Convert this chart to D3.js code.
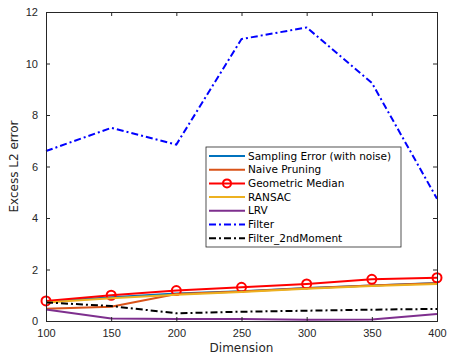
<!DOCTYPE html>
<html>
<head>
<meta charset="utf-8">
<script src="https://cdn.jsdelivr.net/npm/d3@7"></script>
<style>
  body { margin: 0; background: #fff; }
  svg { font-family: "DejaVu Sans", sans-serif; }
  .tick text { fill: #262626; font-size: 11px; }
</style>
</head>
<body>
<div id="chart"></div>
<script>
const dimensions = [100, 150, 200, 250, 300, 350, 400];
const samplingError = [0.75, 0.92, 1.07, 1.16, 1.28, 1.38, 1.48];
const naivePruning = [0.48, 0.55, 1.05, 1.15, 1.27, 1.38, 1.47];
const geometricMedian = [0.78, 1.0, 1.18, 1.31, 1.44, 1.62, 1.68];
const ransac = [0.72, 0.88, 1.02, 1.13, 1.25, 1.36, 1.44];
const lrv = [0.45, 0.1, 0.08, 0.08, 0.05, 0.06, 0.27];
const filter = [6.6, 7.5, 6.85, 10.95, 11.4, 9.25, 4.75];
const filter2nd = [0.72, 0.58, 0.3, 0.36, 0.4, 0.44, 0.47];
const yTicks = [0, 2, 4, 6, 8, 10, 12];

const series = [
  { name: 'Sampling Error (with noise)', values: samplingError, color: '#0072BD' },
  { name: 'Naive Pruning', values: naivePruning, color: '#D95319' },
  { name: 'Geometric Median', values: geometricMedian, color: '#FF0000', marker: true },
  { name: 'RANSAC', values: ransac, color: '#EDB120' },
  { name: 'LRV', values: lrv, color: '#7E2F8E' },
  { name: 'Filter', values: filter, color: '#0000FF', dash: '7,3,2,3' },
  { name: 'Filter_2ndMoment', values: filter2nd, color: '#000000', dash: '7,3,2,3' },
];

const width = 450,
  height = 357,
  plotLeft = 46,
  plotRight = 437,
  plotTop = 12,
  plotBottom = 321;

const x = d3.scaleLinear().domain([100, 400]).range([plotLeft, plotRight]);
const y = d3.scaleLinear().domain([0, 12]).range([plotBottom, plotTop]);

const svg = d3
  .select('#chart')
  .append('svg')
  .attr('width', width)
  .attr('height', height);

const axisColor = '#262626';

const line = d3
  .line()
  .x((d, i) => x(dimensions[i]))
  .y((d) => y(d));

series.forEach((s) => {
  svg
    .append('path')
    .datum(s.values)
    .attr('d', line)
    .attr('fill', 'none')
    .attr('stroke', s.color)
    .attr('stroke-width', 2)
    .attr('stroke-dasharray', s.dash || null);
  if (s.marker) {
    svg
      .selectAll(null)
      .data(s.values)
      .enter()
      .append('circle')
      .attr('cx', (d, i) => x(dimensions[i]))
      .attr('cy', (d) => y(d))
      .attr('r', 4.5)
      .attr('fill', 'none')
      .attr('stroke', s.color)
      .attr('stroke-width', 2);
  }
});

// axes, ticks inside on all four sides
const xAxis = svg
  .append('g')
  .attr('transform', `translate(0, ${plotBottom})`)
  .call(d3.axisBottom(x).tickValues(dimensions).tickSize(-4).tickPadding(8));
const yAxis = svg
  .append('g')
  .attr('transform', `translate(${plotLeft}, 0)`)
  .call(d3.axisLeft(y).tickValues(yTicks).tickSize(-4).tickPadding(8));
const xTop = svg
  .append('g')
  .attr('transform', `translate(0, ${plotTop})`)
  .call(d3.axisTop(x).tickValues(dimensions).tickSize(-4).tickFormat(''));
const yRight = svg
  .append('g')
  .attr('transform', `translate(${plotRight}, 0)`)
  .call(d3.axisRight(y).tickValues(yTicks).tickSize(-4).tickFormat(''));

[xAxis, yAxis, xTop, yRight].forEach((g) => {
  g.selectAll('.domain').attr('stroke', axisColor);
  g.selectAll('.tick line').attr('stroke', axisColor);
});

svg
  .append('text')
  .attr('x', (plotLeft + plotRight) / 2)
  .attr('y', 352)
  .attr('text-anchor', 'middle')
  .attr('fill', axisColor)
  .attr('font-size', 12)
  .text('Dimension');

svg
  .append('text')
  .attr('transform', `translate(18, ${(plotTop + plotBottom) / 2}) rotate(-90)`)
  .attr('text-anchor', 'middle')
  .attr('fill', axisColor)
  .attr('font-size', 12)
  .text('Excess L2 error');

// legend
const legend = svg.append('g').attr('transform', 'translate(206, 147)');
legend
  .append('rect')
  .attr('width', 195)
  .attr('height', 100)
  .attr('fill', '#fff')
  .attr('stroke', axisColor)
  .attr('stroke-width', 0.8);

const rows = legend
  .selectAll('g.row')
  .data(series)
  .enter()
  .append('g')
  .attr('class', 'row')
  .attr('transform', (d, i) => `translate(0, ${9 + i * 13.7})`);

rows
  .append('line')
  .attr('x1', 3)
  .attr('x2', 39)
  .attr('stroke', (d) => d.color)
  .attr('stroke-width', 2)
  .attr('stroke-dasharray', (d) => d.dash || null);

rows
  .filter((d) => d.marker)
  .append('circle')
  .attr('cx', 21)
  .attr('r', 4)
  .attr('fill', 'none')
  .attr('stroke', (d) => d.color)
  .attr('stroke-width', 2);

rows
  .append('text')
  .attr('x', 42)
  .attr('dy', '0.35em')
  .attr('font-size', 10.5)
  .attr('fill', '#000')
  .text((d) => d.name);
</script>
</body>
</html>
